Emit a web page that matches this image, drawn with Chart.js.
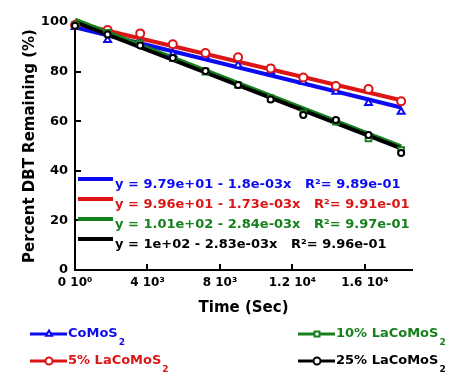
<!DOCTYPE html>
<html>
<head>
<meta charset="utf-8">
<script src="https://cdn.jsdelivr.net/npm/chart.js@4.4.1/dist/chart.umd.min.js"></script>
<style>
  html, body { margin: 0; padding: 0; background: #fff; }
  #wrap { width: 463px; height: 377px; }
</style>
</head>
<body>
<div id="wrap"><canvas id="dbt_chart" width="463" height="377"></canvas></div>
<script>
// sampling times (s) and % DBT left for each catalyst
const timeSec = [0, 1800, 3600, 5400, 7200, 9000, 10800, 12600, 14400, 16200, 18000];
const comos2  = [98.0, 92.7, 91.0, 87.1, 86.0, 82.6, 80.0, 75.9, 71.9, 67.3, 63.8];
const la5     = [98.8, 96.8, 95.4, 91.0, 87.5, 85.8, 81.3, 77.6, 74.2, 73.0, 68.0];
const la10    = [98.8, 95.6, 91.4, 85.4, 80.0, 74.6, 69.2, 63.2, 59.8, 53.1, 48.4];
const la25    = [98.5, 95.0, 90.5, 85.5, 80.2, 74.6, 68.8, 62.5, 60.5, 54.4, 47.2];

// linear fits y = a + b*x
const fitIntercept = [97.9, 99.6, 101, 100];
const fitSlope = [-1.8e-3, -1.73e-3, -2.84e-3, -2.83e-3];
const fitText = [
  'y = 9.79e+01 - 1.8e-03x   R\u00b2= 9.89e-01',
  'y = 9.96e+01 - 1.73e-03x   R\u00b2= 9.91e-01',
  'y = 1.01e+02 - 2.84e-03x   R\u00b2= 9.97e-01',
  'y = 1e+02 - 2.83e-03x   R\u00b2= 9.96e-01'
];

const seriesNames = ['CoMoS', '5% LaCoMoS', '10% LaCoMoS', '25% LaCoMoS'];
const seriesData = [comos2, la5, la10, la25];
const colors = ['#0b0bf2', '#dd1515', '#16801c', '#000000'];
const markers = ['triangle', 'circle', 'rect', 'circle'];
const markerSize = [4, 4, 4, 3];

const xTicks = [0, 4000, 8000, 12000, 16000];
const xTickLabels = ['0 10\u2070', '4 10\u00b3', '8 10\u00b3', '1.2 10\u2074', '1.6 10\u2074'];
const yTicks = [0, 20, 40, 60, 80, 100];

const FONT = 'DejaVu Sans';

const datasets = [];
seriesData.forEach((vals, i) => {
  const end = timeSec[timeSec.length - 1];
  datasets.push({
    type: 'line',
    label: seriesNames[i] + ' fit',
    data: [{x: 0, y: fitIntercept[i]}, {x: end, y: fitIntercept[i] + fitSlope[i] * end}],
    borderColor: colors[i],
    borderWidth: 4,
    pointRadius: 0,
    clip: false,
    order: 8 - i
  });
  datasets.push({
    type: 'scatter',
    label: seriesNames[i],
    data: timeSec.map((t, k) => ({x: t, y: vals[k]})),
    showLine: false,
    pointStyle: markers[i],
    pointRadius: markerSize[i],
    pointBorderWidth: 2,
    pointBorderColor: colors[i],
    pointBackgroundColor: '#ffffff',
    clip: false,
    order: 4 - i
  });
});

const extras = {
  id: 'extras',
  afterDraw(chart) {
    const ctx = chart.ctx;
    const xs = chart.scales.x, ys = chart.scales.y;
    const area = chart.chartArea;
    ctx.save();

    // inward tick marks
    ctx.strokeStyle = '#000';
    ctx.lineWidth = 2;
    xTicks.slice(1).forEach(v => {
      const px = Math.round(xs.getPixelForValue(v));
      ctx.beginPath();
      ctx.moveTo(px, area.bottom);
      ctx.lineTo(px, area.bottom - 6);
      ctx.stroke();
    });
    yTicks.slice(1, -1).forEach(v => {
      const py = Math.round(ys.getPixelForValue(v));
      ctx.beginPath();
      ctx.moveTo(area.left, py);
      ctx.lineTo(area.left + 6, py);
      ctx.stroke();
    });

    // fit equations inside the plot
    ctx.font = 'bold 13px "' + FONT + '"';
    ctx.textBaseline = 'middle';
    ctx.textAlign = 'left';
    fitText.forEach((txt, i) => {
      const y = 179 + i * 20;
      ctx.strokeStyle = colors[i];
      ctx.lineWidth = 4;
      ctx.beginPath();
      ctx.moveTo(78, y);
      ctx.lineTo(113, y);
      ctx.stroke();
      ctx.fillStyle = colors[i];
      ctx.fillText(txt, 115, y + 6);
    });

    // series key under the axis
    const spots = [[30, 334], [30, 361], [298, 334], [298, 361]];
    spots.forEach(([x, y], i) => {
      ctx.strokeStyle = colors[i];
      ctx.fillStyle = '#fff';
      ctx.lineWidth = 3;
      ctx.beginPath();
      ctx.moveTo(x, y);
      ctx.lineTo(x + 37, y);
      ctx.stroke();
      ctx.lineWidth = 2;
      Chart.helpers.drawPoint(ctx, {pointStyle: markers[i], radius: 3.5, borderWidth: 2, rotation: 0}, x + 19, y);
      ctx.fillStyle = colors[i];
      ctx.font = 'bold 13px "' + FONT + '"';
      ctx.fillText(seriesNames[i], x + 38, y);
      const w = ctx.measureText(seriesNames[i]).width;
      ctx.font = 'bold 9px "' + FONT + '"';
      ctx.fillText('2', x + 39 + w, y + 9);
    });
    ctx.restore();
  }
};

new Chart(document.getElementById('dbt_chart'), {
  data: {datasets: datasets},
  options: {
    responsive: false,
    animation: false,
    layout: {padding: {left: 12, top: 22, right: 51, bottom: 57}},
    plugins: {legend: {display: false}, tooltip: {enabled: false}},
    scales: {
      x: {
        type: 'linear',
        min: 0,
        max: 18600,
        afterFit: s => { s.height = 50; },
        afterBuildTicks: s => { s.ticks = xTicks.map(v => ({value: v})); },
        grid: {display: false, drawTicks: false},
        border: {display: true, color: '#000', width: 2},
        ticks: {
          autoSkip: false,
          maxRotation: 0,
          padding: 6,
          color: '#000',
          font: {family: FONT, size: 12, weight: 'bold'},
          callback: v => xTickLabels[xTicks.indexOf(v)]
        },
        title: {
          display: true,
          text: 'Time (Sec)',
          color: '#000',
          font: {family: FONT, size: 15, weight: 'bold'},
          padding: {top: 0, bottom: 3}
        }
      },
      y: {
        min: 0,
        max: 100,
        afterFit: s => { s.width = 63; },
        afterBuildTicks: s => { s.ticks = yTicks.map(v => ({value: v})); },
        grid: {display: false, drawTicks: false},
        border: {display: true, color: '#000', width: 2},
        ticks: {
          padding: 7,
          color: '#000',
          font: {family: FONT, size: 13, weight: 'bold'}
        },
        title: {
          display: true,
          text: 'Percent DBT Remaining (%)',
          color: '#000',
          font: {family: FONT, size: 15, weight: 'bold'},
          padding: {top: 9, bottom: 0}
        }
      }
    }
  },
  plugins: [extras]
});
</script>
</body>
</html>
